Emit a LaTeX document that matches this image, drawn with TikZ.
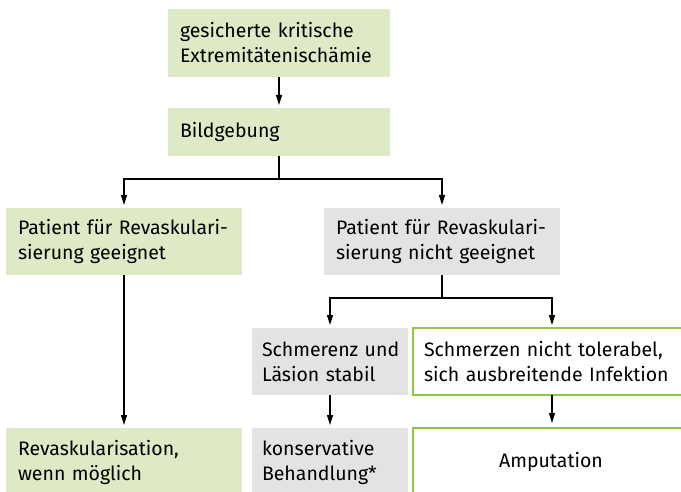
\documentclass[tikz,border=0pt]{standalone}
\usepackage{fontspec}
\setmainfont{Fira Sans}
\usetikzlibrary{arrows.meta, positioning}
\definecolor{boxgreen}{RGB}{222,233,198}
\definecolor{boxgray}{RGB}{227,227,227}
\definecolor{linegreen}{RGB}{141,198,63}

\tikzset{
  box/.style={rectangle, anchor=north west, outer sep=0pt, inner xsep=12pt, inner ysep=6pt,
    align=left, font=\fontsize{19.5}{25}\selectfont},
  greenbox/.style={box, fill=boxgreen},
  graybox/.style={box, fill=boxgray},
  framebox/.style={box, fill=white, draw=linegreen, line width=1.3pt},
}

\begin{document}
\begin{tikzpicture}[x=1pt, y=-1pt, line width=1.3pt,
    >={Triangle[length=10pt, width=6pt]}]
        \useasboundingbox (0,0) rectangle (681,492);

        \node[greenbox, minimum width=222pt, minimum height=68pt, text width=198pt] (isch) at (168,9) {gesicherte kritische\\Extremitätenischämie};
        \node[greenbox, minimum width=222pt, minimum height=48pt, text width=198pt] (bild) at (168,108) {Bildgebung};

        \node[greenbox, minimum width=236pt, minimum height=67pt, text width=212pt] (ja) at (6,208) {Patient für Revaskulari-\\sierung geeignet};
        \node[graybox, minimum width=236pt, minimum height=67pt, text width=212pt] (nein) at (324,208) {Patient für Revaskulari-\\sierung nicht geeignet};

        \node[graybox, minimum width=156pt, minimum height=67pt, text width=136pt, inner xsep=10pt] (stabil) at (252,328) {\mbox{Schmerenz und}\\Läsion stabil};
        \node[framebox, minimum width=276pt, minimum height=67pt, text width=254pt, inner xsep=11pt] (infekt) at (413,328) {Schmerzen nicht tolerabel,\\sich ausbreitende Infektion};

        \node[greenbox, minimum width=236pt, minimum height=68pt, text width=212pt] (revask) at (6,428) {Revaskularisation,\\wenn möglich};
        \node[graybox, minimum width=156pt, minimum height=68pt, text width=136pt, inner xsep=10pt] (konserv) at (252,428) {konservative\\Behandlung*};
        \node[framebox, minimum width=276pt, minimum height=68pt, align=center] (amput) at (413,428) {Amputation};

        \coordinate (kinf) at (552,328);

        \draw[->, shorten >=3pt] (isch) -- (bild);
        \draw (bild.south) -- ++(0,23) coordinate (gab1);
        \draw[->, shorten >=3pt] (gab1) -| (ja.north);
        \draw[->, shorten >=3pt] (gab1) -| (nein.north);

        \draw (nein.south) -- ++(0,23) coordinate (gab2);
        \draw[->, shorten >=3pt] (gab2) -| (stabil.north);
        \draw[->, shorten >=3pt] (gab2) -| (kinf);

        \draw[->, shorten >=3pt] (ja) -- (revask);
        \draw[->, shorten >=3pt] (stabil) -- (konserv);
        \draw[->, shorten >=5pt] (kinf |- infekt.south) -- (kinf |- amput.north);

\end{tikzpicture}
\end{document}
